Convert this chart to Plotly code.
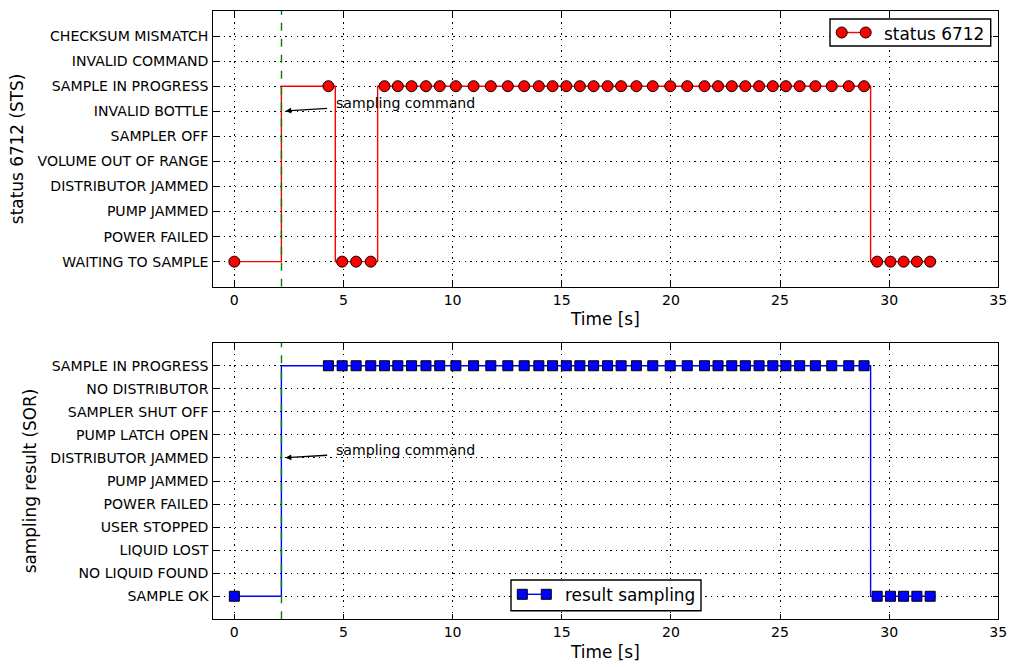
import plotly.graph_objects as go

# Sample times [s]
t = [0.0, 4.31, 4.94, 5.58, 6.25, 6.88, 7.49, 8.12, 8.78, 9.41, 10.15, 10.96,
     11.75, 12.53, 13.28, 13.95, 14.58, 15.21, 15.83, 16.46, 17.10, 17.72,
     18.42, 19.17, 19.97, 20.75, 21.54, 22.16, 22.79, 23.41, 24.04, 24.67,
     25.27, 25.90, 26.62, 27.37, 28.15, 28.85, 29.45, 30.06, 30.66, 31.27,
     31.88]

# Time at which the sampling command was sent
t_cmd = 2.16

sts_labels = ["WAITING TO SAMPLE", "POWER FAILED", "PUMP JAMMED",
              "DISTRIBUTOR JAMMED", "VOLUME OUT OF RANGE", "SAMPLER OFF",
              "INVALID BOTTLE", "SAMPLE IN PROGRESS", "INVALID COMMAND",
              "CHECKSUM MISMATCH"]
sor_labels = ["SAMPLE OK", "NO LIQUID FOUND", "LIQUID LOST", "USER STOPPED",
              "POWER FAILED", "PUMP JAMMED", "DISTRIBUTOR JAMMED",
              "PUMP LATCH OPEN", "SAMPLER SHUT OFF", "NO DISTRIBUTOR",
              "SAMPLE IN PROGRESS"]

# Status codes (index into sts_labels) per sample
sts = [0, 7, 0, 0, 0, 7, 7, 7, 7, 7, 7, 7,
       7, 7, 7, 7, 7, 7, 7, 7, 7, 7,
       7, 7, 7, 7, 7, 7, 7, 7, 7, 7,
       7, 7, 7, 7, 7, 7, 0, 0, 0, 0,
       0]
# Sampling result codes (index into sor_labels) per sample
sor = [0, 10, 10, 10, 10, 10, 10, 10, 10, 10, 10, 10,
       10, 10, 10, 10, 10, 10, 10, 10, 10, 10,
       10, 10, 10, 10, 10, 10, 10, 10, 10, 10,
       10, 10, 10, 10, 10, 10, 0, 0, 0, 0,
       0]

W, H = 1013, 667
FONT = "DejaVu Sans"
TICK_PX = 14.1
LABEL_PX = 16.9


def px(x):
    return x / W


def py(y):
    return 1 - y / H


fig = go.Figure()

# Status trace (top)
fig.add_trace(go.Scatter(
    x=t, y=sts, mode="lines+markers", line_shape="hvh",
    line=dict(color="red", width=1.4),
    marker=dict(symbol="circle", size=11, color="red",
                line=dict(color="black", width=1)),
    xaxis="x", yaxis="y", showlegend=False, name="status 6712"))
fig.add_trace(go.Scatter(
    x=[t_cmd, t_cmd], y=[-1, 10], mode="lines",
    line=dict(color="#008000", width=1.4, dash="8px,8px"),
    xaxis="x", yaxis="y", showlegend=False, hoverinfo="skip"))

# Sampling result trace (bottom)
fig.add_trace(go.Scatter(
    x=t, y=sor, mode="lines+markers", line_shape="hvh",
    line=dict(color="blue", width=1.4),
    marker=dict(symbol="square", size=10, color="blue",
                line=dict(color="black", width=1)),
    xaxis="x2", yaxis="y2", showlegend=False, name="result sampling"))
fig.add_trace(go.Scatter(
    x=[t_cmd, t_cmd], y=[-1, 11], mode="lines",
    line=dict(color="#008000", width=1.4, dash="8px,8px"),
    xaxis="x2", yaxis="y2", showlegend=False, hoverinfo="skip"))

xdom = [px(212.5), px(998.3)]
common_x = dict(
    range=[-1, 35], tick0=0, dtick=5, domain=xdom, automargin=False,
    showline=True, linecolor="black", linewidth=1.4, mirror="ticks",
    ticks="inside", ticklen=5.6, tickwidth=1, tickcolor="black",
    showgrid=True, gridcolor="black", gridwidth=0.7, griddash="1.4px,4.2px",
    zeroline=False, tickfont=dict(family=FONT, size=TICK_PX, color="black"),
    title=dict(text="Time [s]", font=dict(family=FONT, size=LABEL_PX,
                                         color="black"), standoff=6),
)
common_y = dict(
    showline=True, linecolor="black", linewidth=1.4, mirror="ticks",
    ticks="inside", ticklen=5.6, tickwidth=1, tickcolor="black",
    showgrid=True, gridcolor="black", gridwidth=0.7, griddash="1.4px,4.2px",
    zeroline=False, automargin=False,
    tickfont=dict(family=FONT, size=TICK_PX, color="black"),
)

fig.update_layout(
    xaxis=dict(anchor="y", **common_x),
    yaxis=dict(anchor="x", domain=[py(286.7), py(11)], range=[-1, 10],
               tickvals=list(range(len(sts_labels))), ticktext=sts_labels,
               title=dict(text="status 6712 (STS)",
                          font=dict(family=FONT, size=LABEL_PX, color="black"),
                          standoff=9),
               **common_y),
    xaxis2=dict(anchor="y2", **common_x),
    yaxis2=dict(anchor="x2", domain=[py(619.3), py(342.7)], range=[-1, 11],
                tickvals=list(range(len(sor_labels))), ticktext=sor_labels,
                title=dict(text="sampling result (SOR)",
                           font=dict(family=FONT, size=LABEL_PX, color="black"),
                           standoff=9),
                **common_y),
)

# Annotation arrows pointing at the command instant
for xa, ya in (("x", "y"), ("x2", "y2")):
    fig.add_annotation(
        x=t_cmd, y=6, ax=4.32, ay=6.12, xref=xa, yref=ya, axref=xa, ayref=ya,
        text="", showarrow=True, arrowhead=2, arrowsize=0.9, arrowwidth=1.3,
        arrowcolor="black", standoff=4)
fig.add_annotation(x=4.58, y=6.33, xref="x", yref="y", text="sampling command",
                   showarrow=False, xanchor="left", yanchor="middle",
                   font=dict(family=FONT, size=TICK_PX, color="black"))
fig.add_annotation(x=4.58, y=6.36, xref="x2", yref="y2", text="sampling command",
                   showarrow=False, xanchor="left", yanchor="middle",
                   font=dict(family=FONT, size=TICK_PX, color="black"))

# Legends drawn as boxed glyphs
shapes = []
# top legend
shapes.append(dict(type="rect", xref="paper", yref="paper",
                   x0=px(830), x1=px(990.7), y0=py(46), y1=py(19),
                   fillcolor="white", line=dict(color="black", width=1.4),
                   layer="above"))
shapes.append(dict(type="line", xref="paper", yref="paper",
                   x0=px(841.7), x1=px(865.7), y0=py(32.5), y1=py(32.5),
                   line=dict(color="red", width=1.4), layer="above"))
for cx in (841.7, 865.7):
    shapes.append(dict(type="circle", xref="paper", yref="paper",
                       x0=px(cx - 5.5), x1=px(cx + 5.5),
                       y0=py(32.5 + 5.5), y1=py(32.5 - 5.5),
                       fillcolor="red", line=dict(color="black", width=1),
                       layer="above"))
# bottom legend
shapes.append(dict(type="rect", xref="paper", yref="paper",
                   x0=px(511), x1=px(701), y0=py(610.7), y1=py(580),
                   fillcolor="white", line=dict(color="black", width=1.4),
                   layer="above"))
shapes.append(dict(type="line", xref="paper", yref="paper",
                   x0=px(522.3), x1=px(546.3), y0=py(594.3), y1=py(594.3),
                   line=dict(color="blue", width=1.4), layer="above"))
for cx in (522.3, 546.3):
    shapes.append(dict(type="rect", xref="paper", yref="paper",
                       x0=px(cx - 5), x1=px(cx + 5),
                       y0=py(594.3 + 5), y1=py(594.3 - 5),
                       fillcolor="blue", line=dict(color="black", width=1),
                       layer="above"))
fig.update_layout(shapes=shapes)

fig.add_annotation(x=px(882), y=py(33.5), xref="paper", yref="paper",
                   text="status 6712", showarrow=False, xanchor="left",
                   yanchor="middle",
                   font=dict(family=FONT, size=LABEL_PX, color="black"))
fig.add_annotation(x=px(563), y=py(595), xref="paper", yref="paper",
                   text="result sampling", showarrow=False, xanchor="left",
                   yanchor="middle",
                   font=dict(family=FONT, size=LABEL_PX, color="black"))

fig.update_layout(
    width=W, height=H, autosize=False, showlegend=False,
    margin=dict(l=0, r=0, t=0, b=0, pad=0, autoexpand=False),
    paper_bgcolor="white", plot_bgcolor="white",
    font=dict(family=FONT, color="black"),
)

fig.write_html("out.html", config={"responsive": False})
